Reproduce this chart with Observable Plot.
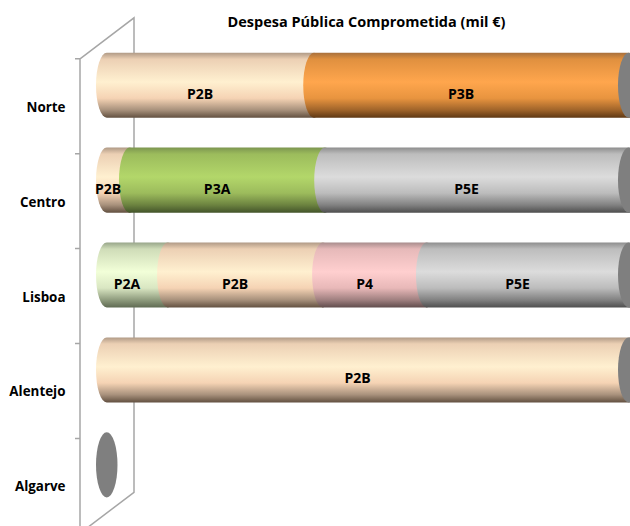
<!DOCTYPE html>
<html lang="pt">
<head>
<meta charset="utf-8">
<script src="https://cdn.jsdelivr.net/npm/d3@7"></script>
<script src="https://cdn.jsdelivr.net/npm/@observablehq/plot@0.6"></script>
<style>
  html, body { margin: 0; padding: 0; background: #fff; overflow: hidden; }
  svg { display: block; }
</style>
</head>
<body>
<div id="chart"></div>
<script>
// Committed public expenditure by region, as a share of each region's total.
const regions = ["Norte", "Centro", "Lisboa", "Alentejo", "Algarve"];
const rowRegion = ["Norte", "Norte", "Centro", "Centro", "Centro", "Lisboa", "Lisboa", "Lisboa", "Lisboa", "Alentejo"];
const rowMeasure = ["P2B", "P3B", "P2B", "P3A", "P5E", "P2A", "P2B", "P4", "P5E", "P2B"];
const rowShare = [39.7, 60.3, 4.4, 37.4, 58.2, 11.7, 29.7, 19.9, 38.7, 100];
const regionTotals = [100, 100, 100, 100, 0];

const title = "Despesa Pública Comprometida (mil €)";
const fontFamily = "'Open Sans', sans-serif";

// Vertical shading that gives each measure its cylinder look: [offset, colour].
const shading = {
  P2A: [[0, "#98a68a"], [0.1, "#cfdcb8"], [0.45, "#f2ffd8"], [0.7, "#d9e6c2"], [0.88, "#8f9c7e"], [1, "#5f6a52"]],
  P2B: [[0, "#b09a86"], [0.1, "#ecd0b4"], [0.45, "#fff0d0"], [0.7, "#f5d3b4"], [0.88, "#a8917c"], [1, "#625040"]],
  P3A: [[0, "#7d9650"], [0.1, "#9cbc5c"], [0.45, "#b3d76a"], [0.7, "#9cbb5c"], [0.88, "#6c8340"], [1, "#43542a"]],
  P3B: [[0, "#a8703c"], [0.1, "#e0903f"], [0.45, "#ffa64d"], [0.7, "#e8943f"], [0.88, "#a0642a"], [1, "#5e3814"]],
  P4: [[0, "#a88c8c"], [0.1, "#e6b9b9"], [0.45, "#ffcfcf"], [0.7, "#e8b8b8"], [0.88, "#a08080"], [1, "#604c4c"]],
  P5E: [[0, "#8e8e8e"], [0.1, "#bdbdbd"], [0.45, "#dcdcdc"], [0.7, "#bcbcbc"], [0.88, "#828282"], [1, "#4e4e4e"]]
};

const rows = rowShare.map((share, i) => ({ region: rowRegion[i], measure: rowMeasure[i], share }));
const totals = regions.map((region, i) => ({ region, total: regionTotals[i] }));

const barDepth = 21.5;  // horizontal diameter of a cylinder's end cap
const shiftUp = -21;    // bars sit above the centre of their band
const wallDepth = [54, -41];
const wallColor = "#a6a6a6";

// Gradient definitions referenced by the bar fills.
function gradients() {
  const defs = d3.create("svg:defs");
  for (const [name, stops] of Object.entries(shading)) {
    const g = defs.append("linearGradient")
      .attr("id", `shade-${name}`).attr("x1", 0).attr("y1", 0).attr("x2", 0).attr("y2", 1);
    for (const [offset, color] of stops) {
      g.append("stop").attr("offset", offset).attr("stop-color", color);
    }
  }
  return defs.node();
}

// The slanted side wall of the 3D axis with its front edge and band ticks.
function wall(index, { x, y }) {
  const step = y(regions[1]) - y(regions[0]);
  const top = y(regions[0]) + y.bandwidth() / 2 - step / 2;
  const bottom = top + step * regions.length;
  const front = x(0) - 16;
  const back = front + wallDepth[0];
  const path = d3.path();
  path.moveTo(front, bottom);
  path.lineTo(front, top);
  path.lineTo(back, top + wallDepth[1]);
  path.lineTo(back, bottom + wallDepth[1]);
  path.lineTo(front, bottom);
  for (let i = 0; i <= regions.length; ++i) {
    path.moveTo(front - 5, top + i * step);
    path.lineTo(front, top + i * step);
  }
  return d3.create("svg:path")
    .attr("d", path.toString())
    .attr("fill", "none")
    .attr("stroke", wallColor)
    .attr("stroke-width", 1.5)
    .node();
}

const chart = Plot.plot({
  width: 630,
  height: 526,
  marginLeft: 96,
  marginRight: 12,
  marginTop: 0,
  marginBottom: 0,
  style: { fontFamily, background: "#fff", overflow: "hidden" },
  x: { domain: [0, 100], axis: null },
  y: {
    domain: regions,
    range: [58.8, 533.3],
    paddingInner: 0.314,
    paddingOuter: 0.157,
    round: false,
    label: null
  },
  marks: [
    gradients,
    wall,
    // Segments run on under the next one so its rounded end overlaps them.
    Plot.barX(rows, Plot.stackX({
      x: "share",
      y: "region",
      order: null,
      fill: (d) => `url(#shade-${d.measure})`,
      insetRight: -barDepth,
      rx: barDepth / 2,
      ry: "50%",
      dy: shiftUp
    })),
    // End cap of each cylinder; a region with no spending shows only this.
    Plot.barX(totals, {
      x1: "total",
      x2: "total",
      y: "region",
      fill: "#7f7f7f",
      insetRight: -barDepth,
      rx: barDepth / 2,
      ry: "50%",
      dy: shiftUp
    }),
    Plot.text(rows, Plot.stackX({
      x: "share",
      y: "region",
      order: null,
      text: "measure",
      fontSize: 14,
      fontWeight: 700,
      fill: "#000",
      dy: -12.5
    })),
    Plot.axisY({
      tickSize: 0,
      tickPadding: 31,
      fontSize: 13.4,
      fontWeight: 700,
      color: "#000",
      dy: 0.7,
      label: null
    }),
    Plot.text([title], {
      frameAnchor: "top",
      dx: 9,
      dy: 22,
      lineAnchor: "middle",
      fontSize: 14.5,
      fontWeight: 700,
      fill: "#000"
    })
  ]
});

document.getElementById("chart").append(chart);
</script>
</body>
</html>
